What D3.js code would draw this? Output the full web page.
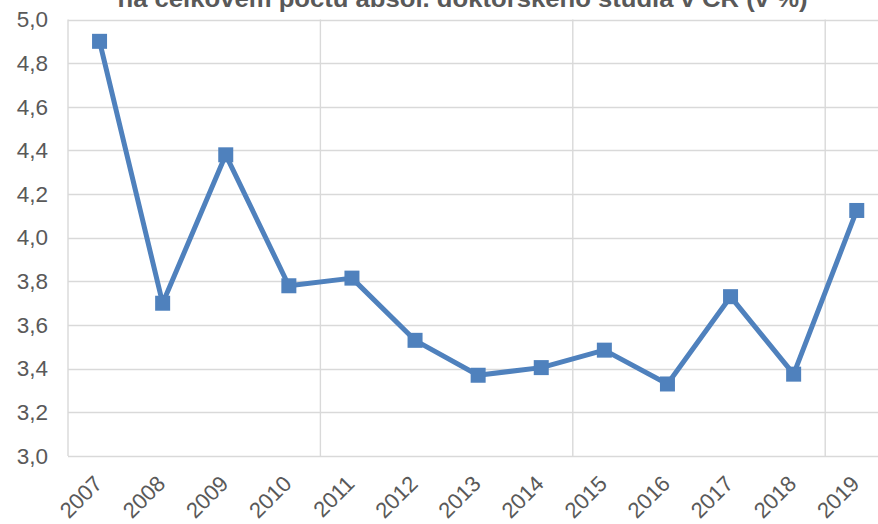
<!DOCTYPE html>
<html>
<head>
<meta charset="utf-8">
<script src="https://d3js.org/d3.v7.min.js"></script>
<style>
  html, body { margin: 0; padding: 0; background: #fff; overflow: hidden; }
  text { font-family: "Liberation Sans", Arial, sans-serif; }
</style>
</head>
<body>
<div id="chart"></div>
<script>
const years = ['2007', '2008', '2009', '2010', '2011', '2012', '2013', '2014', '2015', '2016', '2017', '2018', '2019'];
const shares = [4.90, 3.70, 4.38, 3.78, 3.815, 3.53, 3.37, 3.405, 3.485, 3.33, 3.73, 3.375, 4.125];
const yTicks = [3.0, 3.2, 3.4, 3.6, 3.8, 4.0, 4.2, 4.4, 4.6, 4.8, 5.0];
const title = 'na celkovém počtu absol. doktorského studia v ČR (v %)';

const width = 878, height = 524;
const plotLeft = 68, plotTop = 19.5, plotBottom = 456;
const band = 63.1;

const svg = d3.select('#chart')
    .append('svg')
    .attr('width', width)
    .attr('height', height);

const x = d3.scaleBand()
    .domain(years)
    .range([plotLeft, plotLeft + band * years.length]);

const y = d3.scaleLinear()
    .domain([3, 5])
    .range([plotBottom, plotTop]);

const grid = '#d9d9d9';

// horizontal gridlines
svg.append('g')
    .selectAll('line')
    .data(yTicks)
    .join('line')
    .attr('x1', plotLeft)
    .attr('x2', width)
    .attr('y1', d => Math.round(y(d)) + 0.5)
    .attr('y2', d => Math.round(y(d)) + 0.5)
    .attr('stroke', grid)
    .attr('stroke-width', 1.4);

// vertical gridlines every 4 categories
svg.append('g')
    .selectAll('line')
    .data(years.filter((d, i) => i % 4 === 0))
    .join('line')
    .attr('x1', d => x(d))
    .attr('x2', d => x(d))
    .attr('y1', plotTop)
    .attr('y2', plotBottom)
    .attr('stroke', grid)
    .attr('stroke-width', 1.4);

// y axis labels
svg.append('g')
    .attr('transform', `translate(${plotLeft},0)`)
    .call(d3.axisLeft(y).tickValues(yTicks).tickSize(0).tickPadding(20)
        .tickFormat(d => d3.format('.1f')(d).replace('.', ',')))
    .call(g => g.select('.domain').remove())
    .selectAll('text')
    .attr('font-size', '22.5px')
    .attr('fill', '#595959')
    .attr('font-family', '"Liberation Sans", Arial, sans-serif');

// x axis labels, rotated
svg.append('g')
    .selectAll('text')
    .data(years)
    .join('text')
    .attr('transform', d => `translate(${x(d) + x.bandwidth() / 2 + 4},${485}) rotate(-45)`)
    .attr('text-anchor', 'end')
    .attr('font-size', '22px')
    .attr('fill', '#595959')
    .text(d => d);

// line
const line = d3.line()
    .x((d, i) => x(years[i]) + x.bandwidth() / 2)
    .y(d => y(d));

svg.append('path')
    .datum(shares)
    .attr('d', line)
    .attr('fill', 'none')
    .attr('stroke', '#4f81bd')
    .attr('stroke-width', 5)
    .attr('stroke-linejoin', 'round');

// square markers
const m = 15;
svg.append('g')
    .selectAll('rect')
    .data(shares)
    .join('rect')
    .attr('x', (d, i) => x(years[i]) + x.bandwidth() / 2 - m / 2)
    .attr('y', d => y(d) - m / 2)
    .attr('width', m)
    .attr('height', m)
    .attr('fill', '#4f81bd');

// title (second line, top cropped as in the source)
svg.append('text')
    .attr('x', 462.5)
    .attr('y', 7)
    .attr('text-anchor', 'middle')
    .attr('font-size', '24px')
    .attr('font-weight', 'bold')
    .attr('fill', '#595959')
    .attr('textLength', 690)
    .attr('lengthAdjust', 'spacingAndGlyphs')
    .text(title);
</script>
</body>
</html>
